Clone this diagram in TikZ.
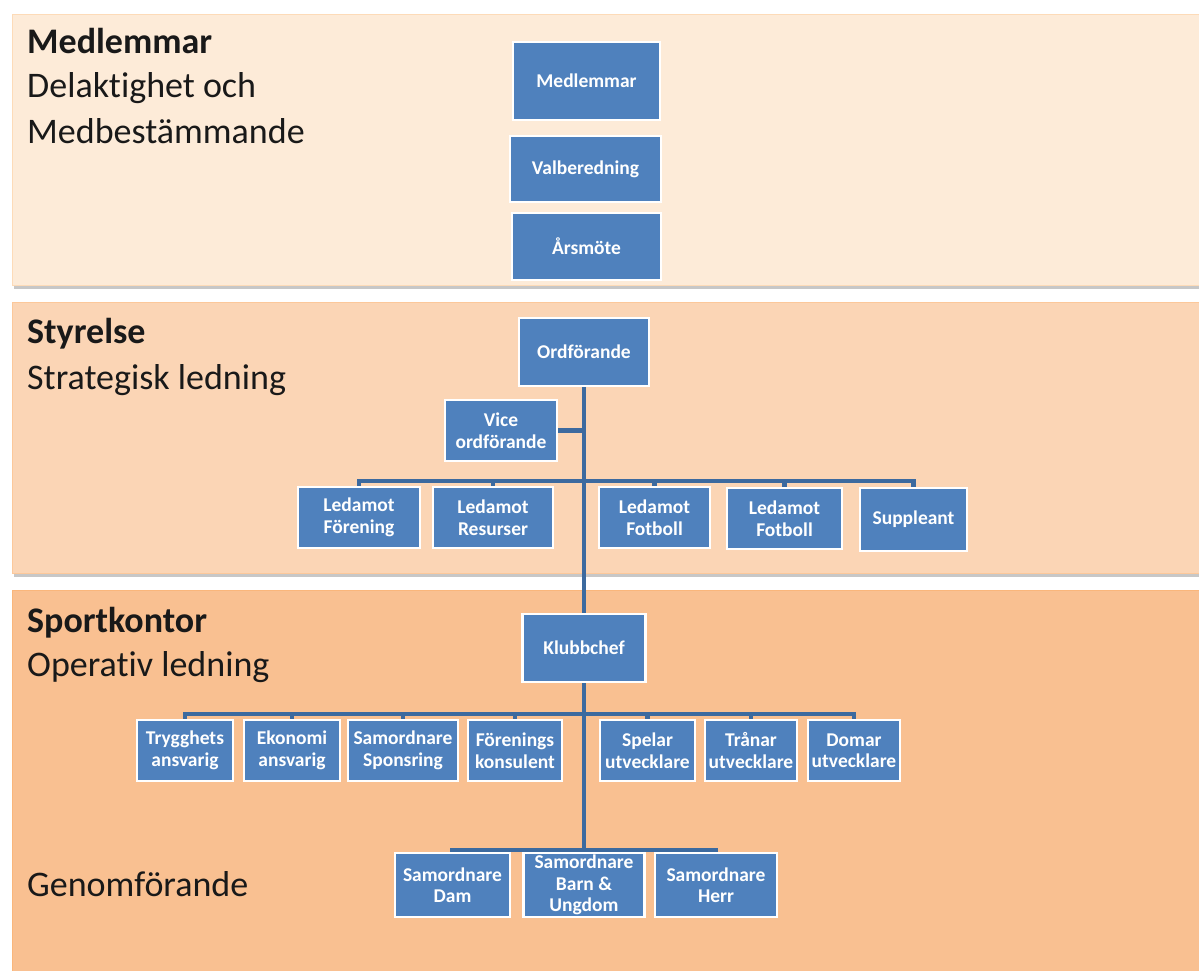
\documentclass[tikz,border=0pt]{standalone}
\usepackage{fontspec}
\setmainfont{Carlito}[Ligatures=CommonOff]
\definecolor{bandA}{HTML}{FDEBD8}
\definecolor{bandB}{HTML}{FBD5B5}
\definecolor{bandC}{HTML}{F9C091}
\definecolor{boxblue}{HTML}{4F81BD}
\definecolor{lineblue}{HTML}{3C6A9F}
\begin{document}
\begin{tikzpicture}[x=1pt,y=-1pt,
    band/.style={fill=#1, draw=#1!85!orange, line width=0.6pt},
    shade/.style={fill=black!22},
    unit/.style={fill=boxblue, draw=white, line width=2.5pt, text=white,
        font=\fontsize{19.5}{21.5}\selectfont\bfseries, align=center, inner sep=0pt},
    wh/.style 2 args={minimum width=#1, minimum height=#2},
    title/.style={anchor=base west, inner sep=0pt, text=black!90,
        font=\fontsize{36}{44}\selectfont},
    head/.style={title, font=\fontsize{36}{44}\selectfont\bfseries},
    conn/.style={draw=lineblue, line width=4.6pt}]
        \useasboundingbox (0,0) rectangle (1199,971);

        \fill[shade] (14,17) rectangle (1205,289);
        \draw[band=bandA] (12,14) rectangle (1205,285);
        \fill[shade] (14,305) rectangle (1205,577);
        \draw[band=bandB] (12,302) rectangle (1205,573);
        \draw[band=bandC] (12,590) rectangle (1205,980);

        \node[head] (MedTitel) at (27,54) {Medlemmar};
        \node[title] (MedRad1) at (27,98) {Delaktighet och};
        \node[title] (MedRad2) at (27,143) {Medbestämmande};
        \node[head] (StyTitel) at (27,343) {Styrelse};
        \node[title] (StyRad1) at (27,389) {Strategisk ledning};
        \node[head] (SpoTitel) at (27,632) {Sportkontor};
        \node[title] (SpoRad1) at (27,676) {Operativ ledning};
        \node[title] (Genom) at (27,896) {Genomförande};

        \node[unit, wh={147pt}{78pt}] (Medlemmar) at (586.5,81) {Medlemmar};
        \node[unit, wh={151pt}{66pt}] (Valberedning) at (585.5,169) {Valberedning};
        \node[unit, wh={149pt}{67pt}] (Arsmote) at (586.5,246.5) {Årsmöte};

        \node[unit, wh={130pt}{68pt}] (Ordforande) at (584,352) {Ordförande};
        \node[unit, wh={112pt}{61pt}] (Vice) at (501,430.5) {Vice\\ordförande};
        \node[unit, wh={122pt}{61pt}] (LedForening) at (359,517.5) {Ledamot\\Förening};
        \node[unit, wh={120pt}{61pt}] (LedResurser) at (493,517.5) {Ledamot\\Resurser};
        \node[unit, wh={111pt}{61pt}] (LedFotbollA) at (654.5,517.5) {Ledamot\\Fotboll};
        \node[unit, wh={115pt}{61pt}] (LedFotbollB) at (784.5,518.5) {Ledamot\\Fotboll};
        \node[unit, wh={107pt}{63pt}] (Suppleant) at (913.5,519.5) {Suppleant};

        \node[unit, wh={123pt}{68pt}] (Klubbchef) at (584,648) {Klubbchef};
        \node[unit, wh={96pt}{61pt}] (Trygghet) at (185,750.5) {Trygghets\\ansvarig};
        \node[unit, wh={96pt}{61pt}] (Ekonomi) at (292,750.5) {Ekonomi\\ansvarig};
        \node[unit, wh={110pt}{61pt}] (Sponsring) at (403,750.5) {Samordnare\\Sponsring};
        \node[unit, wh={94pt}{61pt}] (Konsulent) at (515,750.5) {Förenings\\konsulent};
        \node[unit, wh={95pt}{61pt}] (Spelar) at (647.5,750.5) {Spelar\\utvecklare};
        \node[unit, wh={92pt}{61pt}] (Tranar) at (751,750.5) {Trånar\\utvecklare};
        \node[unit, wh={92pt}{61pt}] (Domar) at (854,750.5) {Domar\\utvecklare};

        \node[unit, wh={115pt}{64pt}] (SamDam) at (452.5,885) {Samordnare\\Dam};
        \node[unit, wh={121pt}{64pt}] (SamBarn) at (584,885) {Samordnare\\Barn \&\\Ungdom};
        \node[unit, wh={122pt}{64pt}] (SamHerr) at (716,885) {Samordnare\\Herr};

        \coordinate (BarStyrelse) at (584,481);
        \coordinate (BarSport) at (584,714);
        \coordinate (BarGenom) at (584,850);

        \draw[conn] (Ordforande.south) -- (Klubbchef.north);
        \draw[conn] (Vice.east) -- (Vice.east -| Ordforande.south);
        \draw[conn] (BarStyrelse) -| (LedForening.north);
        \draw[conn] (BarStyrelse) -| (LedResurser.north);
        \draw[conn] (BarStyrelse) -| (LedFotbollA.north);
        \draw[conn] (BarStyrelse) -| (LedFotbollB.north);
        \draw[conn] (BarStyrelse) -| (Suppleant.north);
        \draw[conn] (Klubbchef.south) -- (BarGenom);
        \draw[conn] (BarSport) -| (Trygghet.north);
        \draw[conn] (BarSport) -| (Ekonomi.north);
        \draw[conn] (BarSport) -| (Sponsring.north);
        \draw[conn] (BarSport) -| (Konsulent.north);
        \draw[conn] (BarSport) -| (Spelar.north);
        \draw[conn] (BarSport) -| (Tranar.north);
        \draw[conn] (BarSport) -| (Domar.north);
        \draw[conn] (BarGenom) -| (SamDam.north);
        \draw[conn] (BarGenom) -| (SamBarn.north);
        \draw[conn] (BarGenom) -| (SamHerr.north);
    \end{tikzpicture}
\end{document}
